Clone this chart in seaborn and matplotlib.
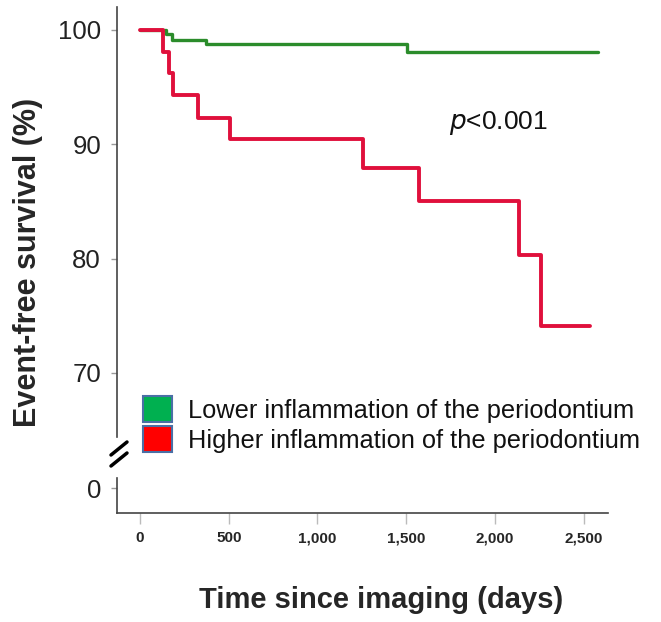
import pandas as pd
import seaborn as sns
import matplotlib
import matplotlib.pyplot as plt
from matplotlib.patches import Patch
from matplotlib.lines import Line2D
from matplotlib.ticker import FuncFormatter

# Kaplan-Meier event-free survival by periodontal inflammation

# Data (days, survival %)
low_days = [0, 145, 179, 372, 1503, 2582]
low_surv = [100, 99.65, 99.15, 98.75, 98.05, 98.05]
high_days = [0, 131, 163, 184, 325, 507, 1255, 1573, 2136, 2260, 2537]
high_surv = [100, 98.05, 96.2, 94.3, 92.3, 90.5, 87.9, 85.0, 80.3, 74.1, 74.1]
groups = ['Lower inflammation of the periodontium', 'Higher inflammation of the periodontium']
x_ticks = [0, 500, 1000, 1500, 2000, 2500]
y_ticks = [70, 80, 90, 100]

df_low = pd.DataFrame({'days': low_days, 'surv': low_surv})
df_high = pd.DataFrame({'days': high_days, 'surv': high_surv})

# Plot style
sns.set_style('white')
plt.rcParams['font.family'] = ['Liberation Sans', 'DejaVu Sans']

fig = plt.figure(figsize=(6.61, 6.22), dpi=100)
ax_top = fig.add_axes([0.177, 0.2974, 0.7428, 0.6913])
ax_bot = fig.add_axes([0.177, 0.1752, 0.7428, 0.0563])

# Curves
sns.lineplot(data=df_low, x='days', y='surv', drawstyle='steps-post', estimator=None,
             color='#2b8c2b', linewidth=2.4, ax=ax_top)
sns.lineplot(data=df_high, x='days', y='surv', drawstyle='steps-post', estimator=None,
             color='#e0103c', linewidth=2.8, ax=ax_top)

xlim = (-130, 2638)
spine_col = '#444444'

# Upper (70-100) part
ax_top.set_xlim(*xlim)
ax_top.set_ylim(64.4, 102.0)
ax_top.set_yticks(y_ticks)
ax_top.set_xticks([])
for s in ['top', 'right', 'bottom']:
    ax_top.spines[s].set_visible(False)
ax_top.spines['left'].set_color(spine_col)
ax_top.spines['left'].set_linewidth(1.2)
ax_top.tick_params(axis='y', left=True, length=4.5, width=1, color='#999999',
                   labelsize=18.5, labelcolor='#222222', pad=7)
ax_top.set(xlabel='', ylabel='')

# Lower (0) part
ax_bot.set_xlim(*xlim)
ax_bot.set_ylim(-2.1, 0.875)
ax_bot.set_yticks([0])
ax_bot.set_xticks(x_ticks)
ax_bot.xaxis.set_major_formatter(FuncFormatter(lambda v, p: f'{int(v):,}'))
for s in ['top', 'right']:
    ax_bot.spines[s].set_visible(False)
for s in ['left', 'bottom']:
    ax_bot.spines[s].set_color(spine_col)
    ax_bot.spines[s].set_linewidth(1.2)
ax_bot.tick_params(axis='y', left=True, length=4.5, width=1, color='#999999',
                   labelsize=18.5, labelcolor='#222222', pad=7)
ax_bot.tick_params(axis='x', bottom=True, length=8, width=1, color='#bbbbbb',
                   labelsize=11, pad=5)
for lab in ax_bot.get_xticklabels():
    lab.set_fontweight('bold')

# Axis break marks
W, H = 661, 622
for y0 in [455, 466]:
    fig.add_artist(Line2D([111 / W, 127 / W], [1 - y0 / H, 1 - (y0 - 13) / H],
                          color='black', linewidth=2.5))

# Labels
fig.text(28 / W, 1 - 262 / H, 'Event-free survival (%)', rotation=90, ha='center', va='center',
         fontsize=22, fontweight='bold')
fig.text(381 / W, 1 - 600 / H, 'Time since imaging (days)', ha='center', va='center',
         fontsize=21, fontweight='bold')
ax_top.text(449 / W, 1 - 123 / H, '$\\it{p}$<0.001', transform=fig.transFigure,
            ha='left', va='center', fontsize=19, color='#111111')

# Legend
handles = [Patch(facecolor='#00b050', edgecolor='#4a6fa5', linewidth=1.5),
           Patch(facecolor='#ff0000', edgecolor='#4a6fa5', linewidth=1.5)]
fig.legend(handles, groups, loc='upper left', bbox_to_anchor=(143 / W, 1 - 396 / H),
           frameon=False, fontsize=18.3, handlelength=1.14, handleheight=1.2,
           handletextpad=0.63, labelspacing=0.15, borderpad=0, borderaxespad=0,
           labelcolor='#111111')

plt.savefig('out.png', dpi=100)
